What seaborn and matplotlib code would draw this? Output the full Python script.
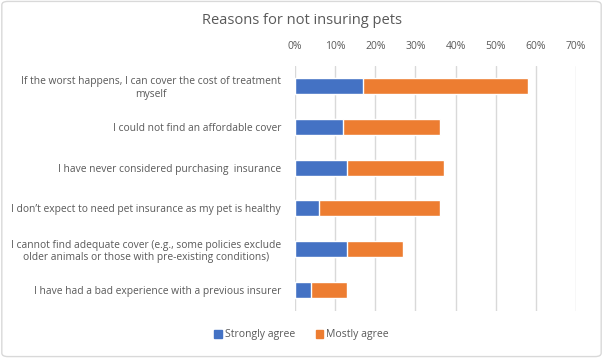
import pandas as pd
import matplotlib
matplotlib.use('Agg')
import matplotlib.pyplot as plt
import matplotlib.patches as mpatches
import seaborn as sns

reasons = [
    'If the worst happens, I can cover the cost of treatment\nmyself',
    'I could not find an affordable cover',
    'I have never considered purchasing  insurance',
    'I don\u2019t expect to need pet insurance as my pet is healthy',
    'I cannot find adequate cover (e.g., some policies exclude\nolder animals or those with pre-existing conditions)',
    'I have had a bad experience with a previous insurer',
]
strongly_agree = [17, 12, 13, 6, 13, 4]
mostly_agree = [41, 24, 24, 30, 14, 9]

blue = '#4472C4'
orange = '#ED7D31'
grey_text = '#595959'

sns.set_style('white')
plt.rcParams['font.family'] = ['Open Sans', 'DejaVu Sans']

df = pd.DataFrame({'reason': reasons,
                   'strong': [v / 100 for v in strongly_agree],
                   'total': [(a + b) / 100 for a, b in zip(strongly_agree, mostly_agree)]})

fig = plt.figure(figsize=(6.03, 3.58), dpi=100)
ax = fig.add_axes([295 / 603, 1 - 310.5 / 358, (576 - 295) / 603, (310.5 - 65.5) / 358])

# orange = total, blue drawn over it -> stacked look
sns.barplot(data=df, y='reason', x='total', color=orange, saturation=1,
            width=0.39, orient='h', ax=ax)
sns.barplot(data=df, y='reason', x='strong', color=blue, saturation=1,
            width=0.39, orient='h', ax=ax)

ax.set_xlim(0, 0.7)
ax.set_xticks([i / 10 for i in range(8)])
ax.set_xticklabels(['%d%%' % (i * 10) for i in range(8)])
ax.xaxis.tick_top()
ax.tick_params(axis='x', length=0, labelsize=7.5, labelcolor=grey_text, pad=10)
ax.tick_params(axis='y', length=0, labelsize=7.4, labelcolor=grey_text, pad=10)
for lbl in ax.get_yticklabels():
    lbl.set_horizontalalignment('right')
    lbl.set_multialignment('center')
ax.set_xlabel('')
ax.set_ylabel('')
ax.grid(axis='x', color='#D9D9D9', linewidth=1)
ax.set_axisbelow(True)
for s in ax.spines.values():
    s.set_visible(False)

fig.text(0.5, 1 - 20 / 358, 'Reasons for not insuring pets', ha='center', va='center',
         fontsize=10.5, color=grey_text)

handles = [mpatches.Patch(color=blue, label='Strongly agree'),
           mpatches.Patch(color=orange, label='Mostly agree')]
fig.legend(handles=handles, loc='center', bbox_to_anchor=(0.5, 1 - 335 / 358), ncol=2,
           frameon=False, fontsize=7.5, handlelength=0.7, handleheight=0.7,
           handletextpad=0.3, columnspacing=2.0, labelcolor=grey_text)

fig.patches.append(mpatches.FancyBboxPatch((0.003, 0.004), 0.994, 0.992,
                                           boxstyle='round,pad=0,rounding_size=0.01',
                                           transform=fig.transFigure, fill=False,
                                           edgecolor='#D9D9D9', linewidth=1))

fig.savefig('out.png', dpi=100)
